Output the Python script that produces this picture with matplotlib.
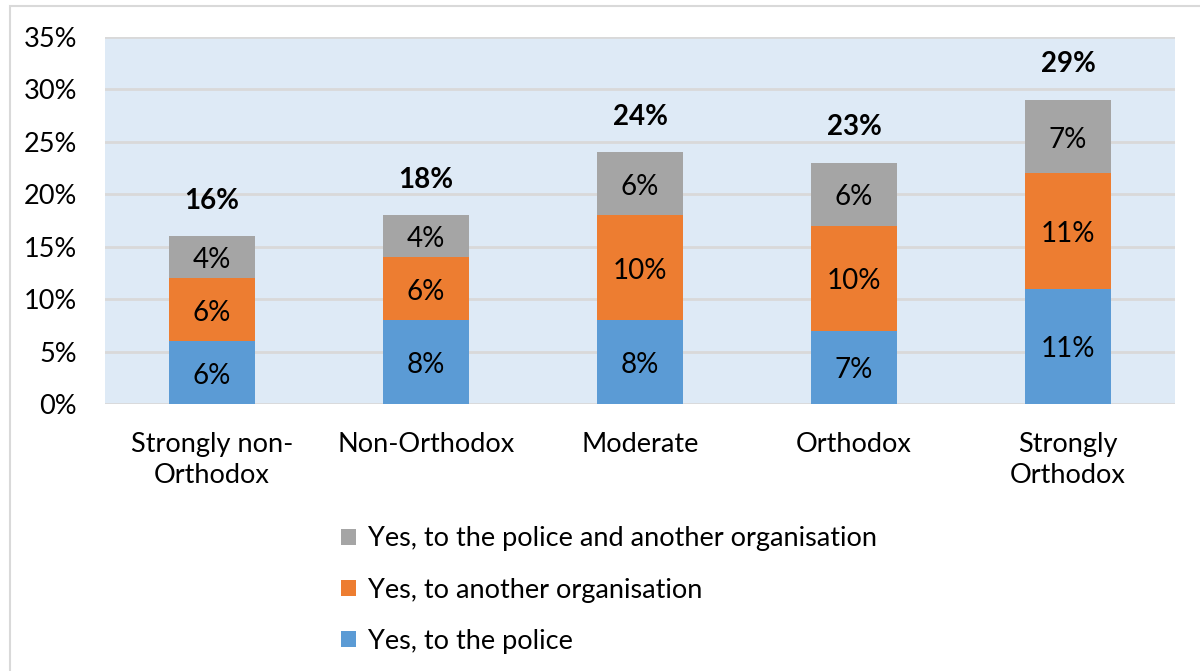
import matplotlib.pyplot as plt
import numpy as np
from matplotlib.patches import Rectangle

categories = ['Strongly non-\nOrthodox', 'Non-Orthodox', 'Moderate', 'Orthodox', 'Strongly\nOrthodox']
police = [6, 8, 8, 7, 11]
other_org = [6, 6, 10, 10, 11]
both = [4, 4, 6, 6, 7]
totals = [16, 18, 24, 23, 29]
series_names = ['Yes, to the police', 'Yes, to another organisation',
                'Yes, to the police and another organisation']
colors = ['#5B9BD5', '#ED7D31', '#A5A5A5']

plt.rcParams['font.family'] = ['Lato', 'DejaVu Sans']

fig = plt.figure(figsize=(12, 6.71), dpi=100)
ax = fig.add_axes([105/1200, 1 - 404/671, 1070/1200, 367/671])
ax.set_facecolor('#DEEAF6')

# light frame around the figure (only left and top edges visible)
fig.patches.append(Rectangle((10/1200, -0.1), 1.2, 1.1 - 6/671,
                             transform=fig.transFigure, fill=False,
                             edgecolor='#D9D9D9', linewidth=1.5, zorder=0))

x = np.arange(len(categories))
w = 0.40
bottom = np.zeros(len(categories))
for vals, name, col in zip([police, other_org, both], series_names, colors):
    ax.bar(x, vals, w, bottom=bottom, color=col, label=name, zorder=3)
    for xi, b, v in zip(x, bottom, vals):
        ax.text(xi, b + v / 2 - 0.3, '%d%%' % v, ha='center', va='center',
                fontsize=20, color='black', zorder=4)
    bottom = bottom + np.array(vals)

for xi, t in zip(x, totals):
    ax.text(xi, t + 3.4, '%d%%' % t, ha='center', va='center',
            fontsize=20, fontweight='bold', zorder=4)

ax.set_xlim(-0.5, len(categories) - 0.5)
ax.set_ylim(0, 35)
ax.set_yticks(range(0, 36, 5))
ax.set_yticklabels(['%d%%' % v for v in range(0, 36, 5)], fontsize=19.5)
ax.set_xticks(x)
ax.set_xticklabels(categories, linespacing=1.3, fontsize=19.5)
ax.tick_params(axis='both', length=0)
ax.tick_params(axis='y', pad=20)
ax.tick_params(axis='x', pad=20)
ax.yaxis.grid(True, color='#D9D9D9', linewidth=2, zorder=0)
ax.set_axisbelow(True)
for s in ax.spines.values():
    s.set_visible(False)

handles, labels = ax.get_legend_handles_labels()
leg = fig.legend(handles[::-1], labels[::-1], loc='upper left',
                 bbox_to_anchor=(317/1200, 1 - 502/671), frameon=False,
                 fontsize=19.5, handlelength=0.55, handleheight=0.55,
                 handletextpad=0.45, labelspacing=0.97)

fig.savefig('out.png', dpi=100)
